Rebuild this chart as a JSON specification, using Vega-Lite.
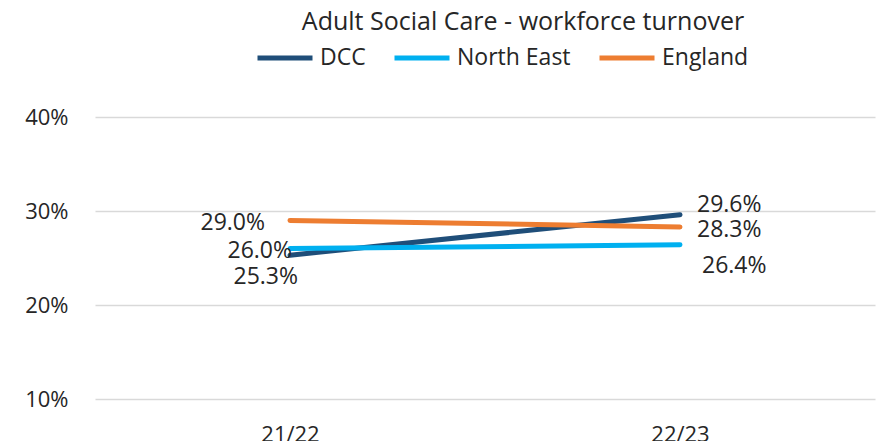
{
  "$schema": "https://vega.github.io/schema/vega-lite/v6.json",
  "width": 780,
  "height": 282,
  "autosize": {"type": "none"},
  "padding": {"left": 95, "top": 117, "right": 6, "bottom": 42},
  "background": "white",
  "title": {
    "text": "Adult Social Care - workforce turnover",
    "anchor": "middle",
    "dx": 38,
    "baseline": "alphabetic",
    "offset": -27,
    "font": "Open Sans",
    "fontSize": 25,
    "fontWeight": "normal",
    "color": "#262626"
  },
  "data": {
    "values": [
      {"year": "21/22", "series": "DCC", "value": 0.253},
      {"year": "22/23", "series": "DCC", "value": 0.296},
      {"year": "21/22", "series": "North East", "value": 0.260},
      {"year": "22/23", "series": "North East", "value": 0.264},
      {"year": "21/22", "series": "England", "value": 0.290},
      {"year": "22/23", "series": "England", "value": 0.283}
    ]
  },
  "encoding": {
    "x": {
      "field": "year",
      "type": "ordinal",
      "scale": {"type": "point", "padding": 0.5},
      "axis": {
        "title": null,
        "labelAngle": 0,
        "domain": false,
        "ticks": false,
        "grid": false,
        "labelPadding": 25,
        "labelFont": "Open Sans",
        "labelFontSize": 22,
        "labelColor": "#262626"
      }
    },
    "y": {
      "field": "value",
      "type": "quantitative",
      "scale": {"domain": [0.1, 0.4], "nice": false, "zero": false},
      "axis": {
        "title": null,
        "values": [0.1, 0.2, 0.3, 0.4],
        "format": ".0%",
        "domain": false,
        "ticks": false,
        "gridColor": "#D9D9D9",
        "gridWidth": 1.5,
        "labelPadding": 27,
        "labelFont": "Open Sans",
        "labelFontSize": 22,
        "labelColor": "#262626"
      }
    }
  },
  "layer": [
    {
      "mark": {"type": "line", "strokeWidth": 5, "strokeCap": "round"},
      "encoding": {
        "color": {
          "field": "series",
          "type": "nominal",
          "scale": {"domain": ["DCC", "North East", "England"], "range": ["#1F4E79", "#00B0F0", "#ED7D31"]},
          "legend": {
            "title": null,
            "orient": "none",
            "direction": "horizontal",
            "legendX": 160,
            "legendY": -89,
            "symbolType": "stroke",
            "symbolSize": 3025,
            "symbolStrokeWidth": 5,
            "labelOffset": 5,
            "columnPadding": 18,
            "labelFont": "Open Sans",
            "labelFontSize": 23,
            "labelColor": "#262626",
            "labelLimit": 300
          }
        },
        "order": {"field": "year"}
      }
    },
    {
      "transform": [{"filter": "datum.year == '21/22' && datum.series == 'England'"}],
      "mark": {"type": "text", "align": "right", "baseline": "middle", "dx": -25, "dy": 3, "font": "Open Sans", "fontSize": 23, "color": "#262626"},
      "encoding": {"text": {"field": "value", "type": "quantitative", "format": ".1%"}}
    },
    {
      "transform": [{"filter": "datum.year == '21/22' && datum.series == 'North East'"}],
      "mark": {"type": "text", "align": "right", "baseline": "middle", "dx": 2, "dy": 2, "font": "Open Sans", "fontSize": 23, "color": "#262626"},
      "encoding": {"text": {"field": "value", "type": "quantitative", "format": ".1%"}}
    },
    {
      "transform": [{"filter": "datum.year == '21/22' && datum.series == 'DCC'"}],
      "mark": {"type": "text", "align": "right", "baseline": "middle", "dx": 8, "dy": 22, "font": "Open Sans", "fontSize": 23, "color": "#262626"},
      "encoding": {"text": {"field": "value", "type": "quantitative", "format": ".1%"}}
    },
    {
      "transform": [{"filter": "datum.year == '22/23' && datum.series == 'DCC'"}],
      "mark": {"type": "text", "align": "left", "baseline": "middle", "dx": 17, "dy": -10, "font": "Open Sans", "fontSize": 23, "color": "#262626"},
      "encoding": {"text": {"field": "value", "type": "quantitative", "format": ".1%"}}
    },
    {
      "transform": [{"filter": "datum.year == '22/23' && datum.series == 'England'"}],
      "mark": {"type": "text", "align": "left", "baseline": "middle", "dx": 17, "dy": 3, "font": "Open Sans", "fontSize": 23, "color": "#262626"},
      "encoding": {"text": {"field": "value", "type": "quantitative", "format": ".1%"}}
    },
    {
      "transform": [{"filter": "datum.year == '22/23' && datum.series == 'North East'"}],
      "mark": {"type": "text", "align": "left", "baseline": "middle", "dx": 22, "dy": 21, "font": "Open Sans", "fontSize": 23, "color": "#262626"},
      "encoding": {"text": {"field": "value", "type": "quantitative", "format": ".1%"}}
    }
  ],
  "config": {"view": {"stroke": null}}
}
